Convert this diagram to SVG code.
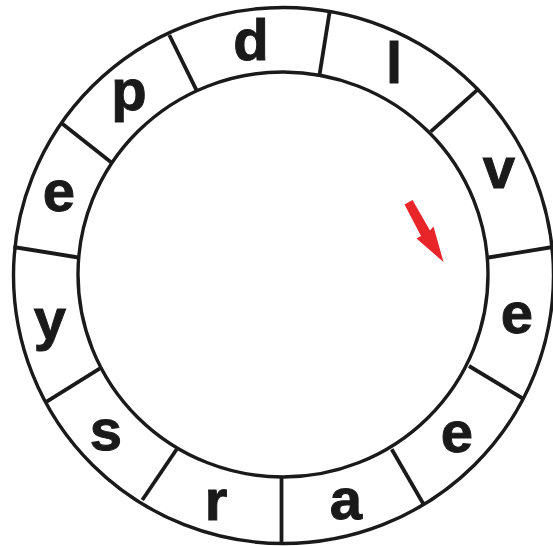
<svg xmlns="http://www.w3.org/2000/svg" width="553" height="546" viewBox="0 0 553 546">
<style>
.ring{fill:none;stroke:#1a1a1a;stroke-width:3.4}
.div{stroke:#1a1a1a;stroke-width:3.8;stroke-linecap:butt}
.lt{font-family:"Liberation Sans",Arial,sans-serif;font-weight:bold;font-size:58px;fill:#1a1a1a;stroke:#1a1a1a;stroke-width:1;text-anchor:middle}
</style>
<rect width="553" height="546" fill="#fff"/>
<g id="ring">
<ellipse class="ring" cx="283.5" cy="275.5" rx="270" ry="268"/>
<ellipse class="ring" cx="283" cy="274.5" rx="205" ry="202.5"/>
</g>
<g id="connectors">
<line class="div" x1="329.8" y1="10.6" x2="319.2" y2="76.9"/>
<line class="div" x1="479" y1="88.3" x2="430.7" y2="131.7"/>
<line class="div" x1="553" y1="247" x2="488.5" y2="257.5"/>
<line class="div" x1="523.5" y1="399" x2="469" y2="366"/>
<line class="div" x1="424" y1="505" x2="391.7" y2="449.3"/>
<line class="div" x1="281.5" y1="544" x2="281.5" y2="477"/>
<line class="div" x1="142.3" y1="500" x2="176.7" y2="449.3"/>
<line class="div" x1="46.7" y1="401.7" x2="100" y2="368.3"/>
<line class="div" x1="13.4" y1="247" x2="78.3" y2="257.5"/>
<line class="div" x1="61.7" y1="123.3" x2="111.7" y2="162.7"/>
<line class="div" x1="169.3" y1="35" x2="196.7" y2="90.7"/>
</g>
<g id="cell-d"><text class="lt" x="251" y="60">d</text></g>
<g id="cell-l"><text class="lt" x="394" y="83">l</text></g>
<g id="cell-v"><text class="lt" x="499" y="188">v</text></g>
<g id="cell-e1"><text class="lt" x="517" y="333">e</text></g>
<g id="cell-e2"><text class="lt" x="457" y="452">e</text></g>
<g id="cell-a"><text class="lt" x="346" y="519">a</text></g>
<g id="cell-r"><text class="lt" x="216" y="520">r</text></g>
<g id="cell-s"><text class="lt" x="106" y="450">s</text></g>
<g id="cell-y"><text class="lt" x="50" y="339">y</text></g>
<g id="cell-e3"><text class="lt" x="59" y="211">e</text></g>
<g id="cell-p"><text class="lt" x="129" y="110">p</text></g>
<g id="arrow">
<polygon fill="#e8262a" points="404.5,204.5 412.5,200 430,230.5 433.5,226.5 443.5,262 416.5,238.5 421,236"/>
</g>
</svg>
